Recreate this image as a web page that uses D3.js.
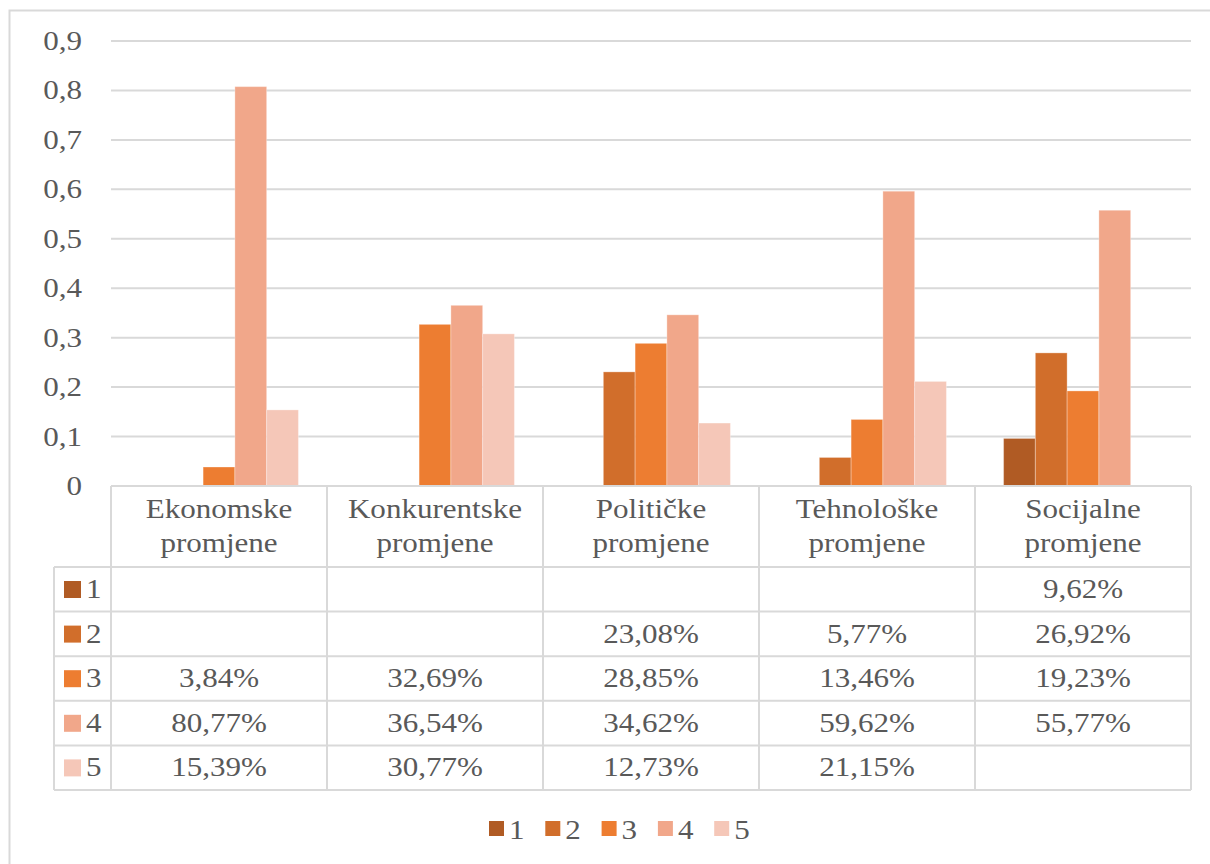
<!DOCTYPE html>
<html>
<head>
<meta charset="utf-8">
<script src="https://cdn.jsdelivr.net/npm/d3@7/dist/d3.min.js"></script>
<style>
  html, body { margin: 0; padding: 0; background: #fff; }
  svg { display: block; }
  text { font-family: "Liberation Serif"; fill: #595959; }
</style>
</head>
<body>
<div id="chart"></div>
<script>
// categories (two-line labels) and series
const categories = [
  ["Ekonomske", "promjene"],
  ["Konkurentske", "promjene"],
  ["Političke", "promjene"],
  ["Tehnološke", "promjene"],
  ["Socijalne", "promjene"]
];
const seriesNames = ["1", "2", "3", "4", "5"];
const seriesColors = ["#B05B24", "#D16E2B", "#ED7D31", "#F1A78A", "#F5C7B8"];

// values per series, null = empty cell
const series1 = [null, null, null, null, 0.0962];
const series2 = [null, null, 0.2308, 0.0577, 0.2692];
const series3 = [0.0384, 0.3269, 0.2885, 0.1346, 0.1923];
const series4 = [0.8077, 0.3654, 0.3462, 0.5962, 0.5577];
const series5 = [0.1539, 0.3077, 0.1273, 0.2115, null];
const allSeries = [series1, series2, series3, series4, series5];

const yTicks = [0, 0.1, 0.2, 0.3, 0.4, 0.5, 0.6, 0.7, 0.8, 0.9];

const W = 1210, H = 864;
const plot = { left: 111, right: 1191, top: 41, bottom: 486 };
const headerH = 81, rowH = 44.6, keyColLeft = 54;
const fontSize = 27, stretch = 1.15;
const gridColor = "#d9d9d9";

const svg = d3.select("#chart").append("svg").attr("width", W).attr("height", H);

// outer frame
svg.append("rect")
  .attr("x", 9.5).attr("y", 10.5).attr("width", 1220).attr("height", 880)
  .attr("fill", "none").attr("stroke", gridColor).attr("stroke-width", 2);

const x0 = d3.scaleBand().domain(d3.range(categories.length))
  .range([plot.left, plot.right]).paddingInner(0).paddingOuter(0);
const x1 = d3.scaleBand().domain(d3.range(seriesNames.length))
  .range([0, x0.bandwidth()]).paddingInner(0).paddingOuter(0.9);
const y = d3.scaleLinear().domain([0, 0.9]).range([plot.bottom, plot.top]);

// stretched text helper
function label(g, tx, ty, str, anchor) {
  return g.append("text")
    .attr("transform", `translate(${tx},${ty}) scale(${stretch},1)`)
    .attr("text-anchor", anchor || "middle")
    .attr("font-size", fontSize)
    .text(str);
}

// gridlines
svg.append("g").selectAll("line").data(yTicks.filter(d => d > 0)).join("line")
  .attr("x1", plot.left).attr("x2", plot.right)
  .attr("y1", d => y(d)).attr("y2", d => y(d))
  .attr("stroke", gridColor).attr("stroke-width", 2);

// y tick labels
const yg = svg.append("g");
yTicks.forEach(t => {
  label(yg, 82, y(t) + 9, d3.format(".1f")(t).replace(".", ",").replace(/^0,0$/, "0"), "end");
});

// bars
const bars = svg.append("g");
allSeries.forEach((vals, si) => {
  bars.selectAll(`.s${si}`).data(vals.map((v, ci) => ({ v, ci })).filter(d => d.v != null))
    .join("rect")
    .attr("x", d => x0(d.ci) + x1(si))
    .attr("width", x1.bandwidth())
    .attr("y", d => y(d.v))
    .attr("height", d => y(0) - y(d.v))
    .attr("fill", seriesColors[si])
    .attr("stroke", "rgba(255,255,255,0.3)")
    .attr("stroke-width", 1);
});

// data table
const tableTop = plot.bottom;
const rowsTop = tableTop + headerH;
const tableBottom = rowsTop + rowH * seriesNames.length;
const tg = svg.append("g");

// horizontal lines
tg.append("line").attr("x1", plot.left).attr("x2", plot.right)
  .attr("y1", tableTop).attr("y2", tableTop).attr("stroke", gridColor).attr("stroke-width", 2);
d3.range(seriesNames.length + 1).forEach(i => {
  const yy = rowsTop + i * rowH;
  tg.append("line").attr("x1", keyColLeft).attr("x2", plot.right)
    .attr("y1", yy).attr("y2", yy).attr("stroke", gridColor).attr("stroke-width", 2);
});
// vertical lines
tg.append("line").attr("x1", keyColLeft).attr("x2", keyColLeft)
  .attr("y1", rowsTop).attr("y2", tableBottom).attr("stroke", gridColor).attr("stroke-width", 2);
d3.range(categories.length + 1).forEach(i => {
  const xx = plot.left + i * x0.bandwidth();
  tg.append("line").attr("x1", xx).attr("x2", xx)
    .attr("y1", tableTop).attr("y2", tableBottom).attr("stroke", gridColor).attr("stroke-width", 2);
});

// header labels
categories.forEach((c, ci) => {
  const cx = x0(ci) + x0.bandwidth() / 2;
  label(tg, cx, tableTop + 32, c[0]);
  label(tg, cx, tableTop + 66, c[1]);
});

// row keys and values
const pct = v => d3.format(".2f")(v * 100).replace(".", ",") + "%";
seriesNames.forEach((s, si) => {
  const ry = rowsTop + si * rowH;
  tg.append("rect").attr("x", 64).attr("y", ry + 14).attr("width", 17).attr("height", 17)
    .attr("fill", seriesColors[si]);
  label(tg, 86, ry + 31, s, "start");
  allSeries[si].forEach((v, ci) => {
    if (v == null) return;
    label(tg, x0(ci) + x0.bandwidth() / 2, ry + 31, pct(v));
  });
});

// legend
const lg = svg.append("g");
const legendStart = 489, legendStep = 56.3, legendY = 829;
seriesNames.forEach((s, si) => {
  const lx = legendStart + si * legendStep;
  lg.append("rect").attr("x", lx).attr("y", legendY - 8).attr("width", 15).attr("height", 15)
    .attr("fill", seriesColors[si]);
  label(lg, lx + 20, legendY + 10, s, "start");
});
</script>
</body>
</html>
